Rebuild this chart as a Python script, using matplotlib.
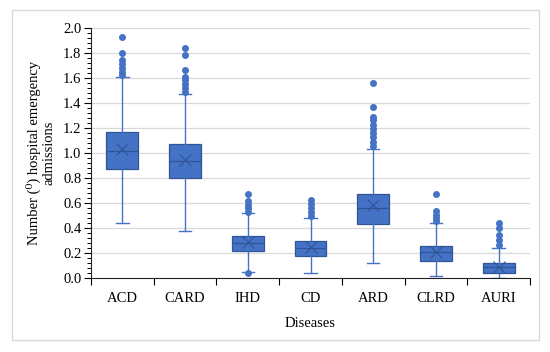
import matplotlib.pyplot as plt
from matplotlib.patches import Rectangle
from matplotlib.ticker import MultipleLocator

# Datos (cuartiles, bigotes, media, atipicos)
diseases = ['ACD', 'CARD', 'IHD', 'CD', 'ARD', 'CLRD', 'AURI']
q1 = [0.872, 0.797, 0.216, 0.178, 0.434, 0.139, 0.042]
med = [1.016, 0.936, 0.283, 0.242, 0.557, 0.205, 0.085]
q3 = [1.168, 1.072, 0.338, 0.298, 0.672, 0.259, 0.120]
mean = [1.030, 0.944, 0.290, 0.250, 0.584, 0.205, 0.088]
whislo = [0.437, 0.376, 0.050, 0.042, 0.120, 0.016, 0.002]
whishi = [1.606, 1.470, 0.517, 0.477, 1.030, 0.437, 0.237]
fliers = [
    [1.93, 1.80, 1.74, 1.71, 1.68, 1.65, 1.62],
    [1.84, 1.78, 1.66, 1.61, 1.58, 1.55, 1.52, 1.49],
    [0.672, 0.616, 0.584, 0.557, 0.530, 0.040],
    [0.624, 0.592, 0.557, 0.525, 0.496],
    [1.56, 1.37, 1.29, 1.26, 1.224, 1.19, 1.157, 1.125, 1.09, 1.058],
    [0.672, 0.536, 0.504, 0.477, 0.456],
    [0.437, 0.397, 0.344, 0.304, 0.264],
]

plt.rcParams['font.family'] = ['Liberation Serif', 'DejaVu Serif']

blue = '#4472C4'
dark = '#2F5597'

stats = []
for i in range(len(diseases)):
    stats.append({'label': diseases[i], 'q1': q1[i], 'med': med[i], 'q3': q3[i],
                  'mean': mean[i], 'whislo': whislo[i], 'whishi': whishi[i],
                  'fliers': fliers[i]})

fig = plt.figure(figsize=(5.5, 3.52), dpi=100)
ax = fig.add_axes([0.1655, 0.2102, 0.7981, 0.7103])

ax.bxp(stats, positions=range(1, 8), widths=0.51, patch_artist=True,
       showmeans=True, meanline=False,
       boxprops=dict(facecolor=blue, edgecolor=dark, linewidth=0.9),
       medianprops=dict(color=dark, linewidth=0.9),
       whiskerprops=dict(color=blue, linewidth=1.0),
       capprops=dict(color=blue, linewidth=1.0),
       capwidths=0.2,
       meanprops=dict(marker='x', markeredgecolor=dark, markersize=8, markeredgewidth=0.8),
       flierprops=dict(marker='o', markerfacecolor=blue, markeredgecolor=blue, markersize=4))

ax.set_xlim(0.5, 7.5)
ax.set_ylim(0, 2.0)
ax.yaxis.set_major_locator(MultipleLocator(0.2))
ax.yaxis.set_minor_locator(MultipleLocator(0.04))
ax.yaxis.set_major_formatter(plt.FuncFormatter(lambda v, p: '%.1f' % v))
ax.set_xticks(range(1, 8))
ax.set_xticklabels(diseases)
ax.set_xticks([i + 0.5 for i in range(0, 8)], minor=True)
ax.tick_params(axis='x', which='major', length=0, pad=10, labelsize=10.5)
ax.tick_params(axis='x', which='minor', length=5, width=0.8, direction='out')
ax.tick_params(axis='y', which='major', length=5, width=0.8, labelsize=10.5, pad=2)
ax.tick_params(axis='y', which='minor', length=3, width=0.7)

ax.grid(axis='y', color='#d9d9d9', linewidth=0.9)
ax.set_axisbelow(True)
for s in ['top', 'right']:
    ax.spines[s].set_visible(False)
ax.spines['left'].set_color('#222222')
ax.spines['bottom'].set_color('#222222')

ax.set_xlabel('Diseases', fontsize=10.5, labelpad=9)
ax.set_ylabel('Number (⁰) hospital emergency\nadmissions', fontsize=10.5, labelpad=5)

fig.patches.append(Rectangle((12 / 550, 12 / 352), 527 / 550, 330 / 352,
                             transform=fig.transFigure, fill=False,
                             edgecolor='#d9d9d9', linewidth=1.0))

plt.savefig('out.png', dpi=100)
